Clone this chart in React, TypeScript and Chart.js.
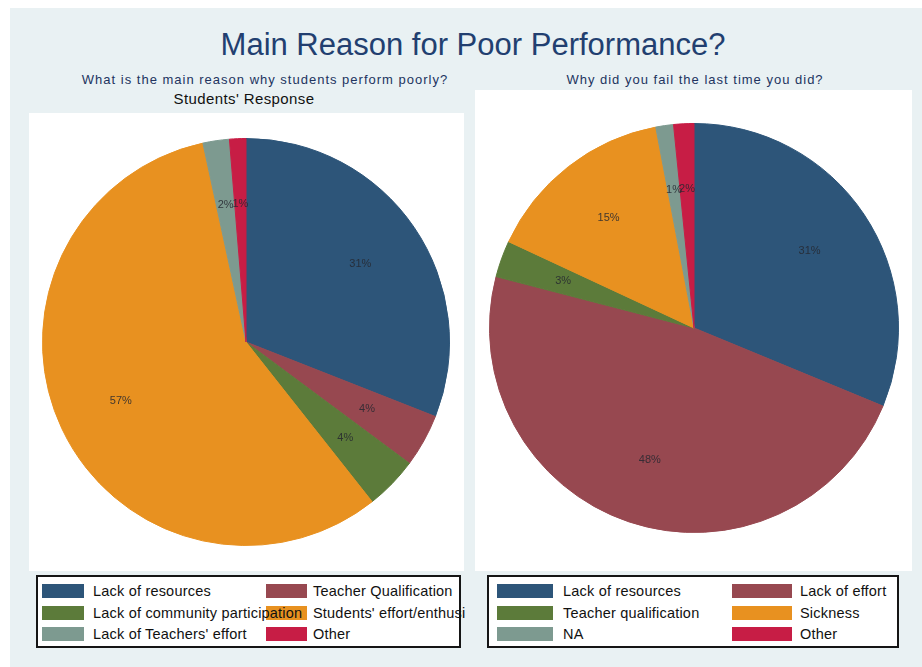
import React, { useEffect, useRef } from "react";
import { Chart, registerables } from "chart.js";

Chart.register(...registerables);

// ---------- data ----------
const titleText = "Main Reason for Poor Performance?";

const leftSubtitle = "What is the main reason why students perform poorly?";
const leftCaption = "Students' Response";
const leftLabels = [
  "Lack of resources",
  "Teacher Qualification",
  "Lack of community participation",
  "Students' effort/enthusi",
  "Lack of Teachers' effort",
  "Other",
];
const leftValues = [31.0, 4.2, 4.2, 57.3, 2.1, 1.3];

const rightSubtitle = "Why did you fail the last time you did?";
const rightLabels = [
  "Lack of resources",
  "Lack of effort",
  "Teacher qualification",
  "Sickness",
  "NA",
  "Other",
];
const rightValues = [31.3, 47.9, 2.9, 15.1, 1.4, 1.6];

// ---------- palette ----------
const palette = ["#2d5579", "#974850", "#5c7b3a", "#e89120", "#7d9a90", "#c71d45"];

const FONT = '"Liberation Sans", Arial, Helvetica, sans-serif';

const pctPlugin = {
  id: "pctLabels",
  afterDatasetsDraw(chart: any) {
    const ctx = chart.ctx as CanvasRenderingContext2D;
    const meta = chart.getDatasetMeta(0);
    const data = chart.data.datasets[0].data as number[];
    ctx.save();
    ctx.font = `11px ${FONT}`;
    ctx.fillStyle = "rgba(38,40,48,0.85)";
    ctx.textAlign = "center";
    ctx.textBaseline = "middle";
    meta.data.forEach((arc: any, i: number) => {
      const p = arc.getProps(["x", "y", "startAngle", "endAngle", "outerRadius"], true);
      const a = (p.startAngle + p.endAngle) / 2;
      const r = p.outerRadius * 0.68;
      ctx.fillText(Math.round(data[i]) + "%", p.x + Math.cos(a) * r, p.y + Math.sin(a) * r);
    });
    ctx.restore();
  },
};

function Pie(props: { labels: string[]; values: number[]; left: number; top: number; size: number }) {
  const ref = useRef<HTMLCanvasElement | null>(null);
  useEffect(() => {
    if (!ref.current) return;
    const chart = new Chart(ref.current, {
      type: "pie",
      data: {
        labels: props.labels,
        datasets: [
          {
            data: props.values,
            backgroundColor: palette,
            borderColor: palette,
            borderWidth: 1,
          },
        ],
      },
      options: {
        responsive: false,
        maintainAspectRatio: false,
        animation: false,
        events: [],
        layout: { padding: 0 },
        plugins: { legend: { display: false }, tooltip: { enabled: false } },
      },
      plugins: [pctPlugin],
    });
    return () => chart.destroy();
  }, []);
  return (
    <canvas
      ref={ref}
      width={props.size}
      height={props.size}
      style={{ position: "absolute", left: props.left, top: props.top, width: props.size, height: props.size }}
    />
  );
}

function Text(props: {
  text: string;
  cx: number;
  baseline: number;
  size: number;
  color: string;
  spacing?: number;
}) {
  const top = props.baseline - 0.8465 * props.size;
  return (
    <div
      style={{
        position: "absolute",
        left: props.cx - 400,
        width: 800,
        top,
        textAlign: "center",
        fontFamily: FONT,
        fontSize: props.size,
        lineHeight: props.size + "px",
        color: props.color,
        letterSpacing: (props.spacing ?? 0) + "px",
        whiteSpace: "nowrap",
      }}
    >
      {props.text}
    </div>
  );
}

function Legend(props: {
  labels: string[];
  left: number;
  top: number;
  width: number;
  height: number;
  sw: [number, number];
  swW: [number, number];
  tx: [number, number];
}) {
  const rowTops = [584, 606, 627];
  const swatches: any[] = [];
  const texts: any[] = [];
  props.labels.forEach((lab, i) => {
    const col = i % 2;
    const row = Math.floor(i / 2);
    swatches.push(
      <div
        key={"s" + i}
        style={{
          position: "absolute",
          left: props.sw[col],
          top: rowTops[row],
          width: props.swW[col],
          height: 14,
          background: palette[i],
        }}
      />
    );
    texts.push(
      <div
        key={"t" + i}
        style={{
          position: "absolute",
          left: props.tx[col],
          top: rowTops[row] - 2,
          height: 18,
          lineHeight: "18px",
          fontFamily: FONT,
          fontSize: 14.5,
          letterSpacing: "0.2px",
          color: "#111",
          whiteSpace: "nowrap",
        }}
      >
        {lab}
      </div>
    );
  });
  return (
    <>
      <div
        style={{
          position: "absolute",
          left: props.left,
          top: props.top,
          width: props.width,
          height: props.height,
          boxSizing: "border-box",
          border: "2px solid #151515",
          background: "#ffffff",
        }}
      />
      {swatches}
      {texts}
    </>
  );
}

export default function App() {
  return (
    <div style={{ position: "absolute", left: 0, top: 0, width: 922, height: 667, background: "#ffffff", overflow: "hidden" }}>
      <div style={{ position: "absolute", left: 10, top: 8, width: 912, height: 659, background: "#e9f1f3" }} />
      {/* plot regions */}
      <div style={{ position: "absolute", left: 29, top: 113, width: 435, height: 458, background: "#ffffff" }} />
      <div style={{ position: "absolute", left: 475, top: 90, width: 437, height: 481, background: "#ffffff" }} />

      <Text text={titleText} cx={473} baseline={55} size={31} color="#223f70" />
      <Text text={leftSubtitle} cx={265} baseline={84} size={13} color="#22345f" spacing={1} />
      <Text text={rightSubtitle} cx={695} baseline={84} size={13} color="#22345f" spacing={1} />
      <Text text={leftCaption} cx={244} baseline={104} size={15} color="#111111" spacing={0.4} />

      <Pie labels={leftLabels} values={leftValues} left={42} top={138} size={408} />
      <Pie labels={rightLabels} values={rightValues} left={489} top={123} size={410} />

      <Legend
        labels={leftLabels}
        left={36}
        top={575}
        width={425}
        height={73}
        sw={[42, 266]}
        swW={[42, 41]}
        tx={[93, 313]}
      />
      <Legend
        labels={rightLabels}
        left={487}
        top={575}
        width={412}
        height={73}
        sw={[497, 732]}
        swW={[56, 60]}
        tx={[563, 800]}
      />
    </div>
  );
}
